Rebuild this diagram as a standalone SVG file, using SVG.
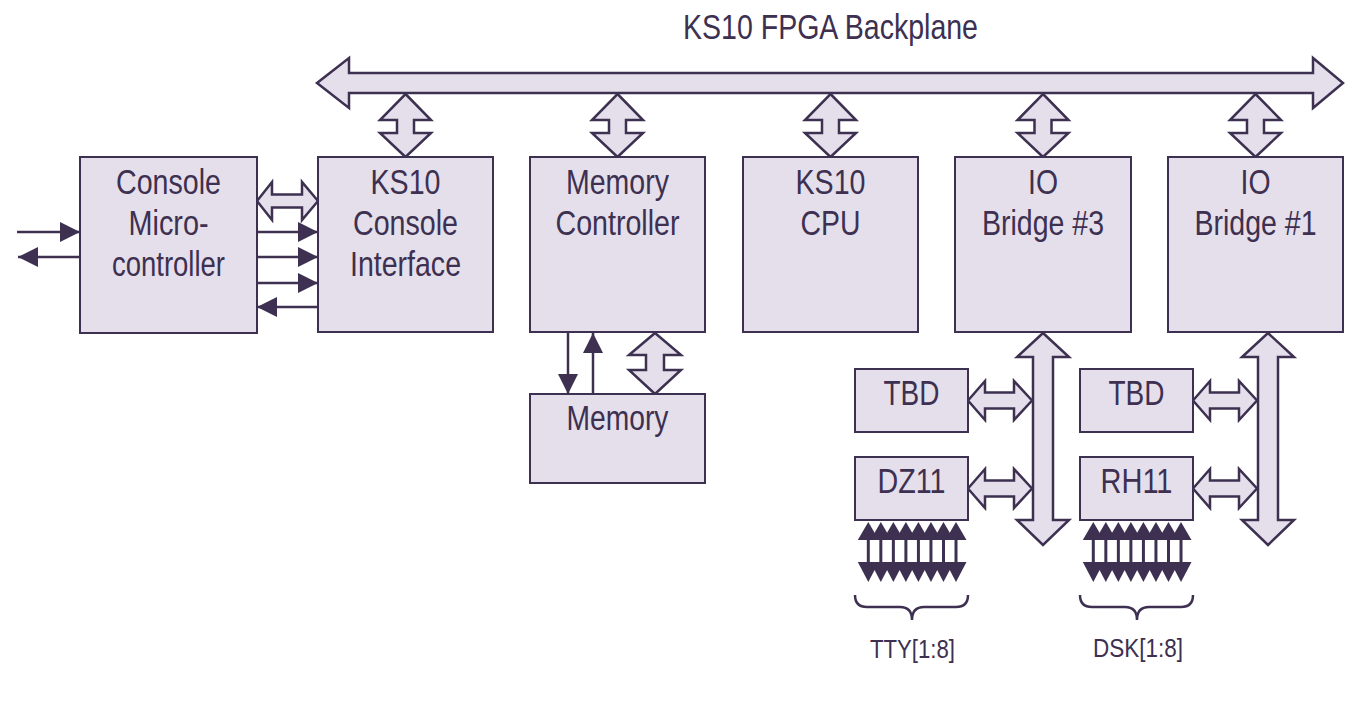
<svg xmlns="http://www.w3.org/2000/svg" width="1352" height="712" viewBox="0 0 1352 712">
<style>
.box{fill:#e4dfeb;stroke:#3d3050;stroke-width:2}
.big{fill:#e4dfeb;stroke:#3d3050;stroke-width:2.5;stroke-linejoin:miter}
.lbl{font-family:"Liberation Sans",Arial,sans-serif;font-size:35px;fill:#3d3050;text-anchor:middle}
.sm{font-family:"Liberation Sans",Arial,sans-serif;font-size:26px;fill:#3d3050;text-anchor:middle}
.ln{stroke:#3d3050;stroke-width:2.5;fill:none}
.arr{stroke:#3d3050;stroke-width:3;fill:none}
.tri{fill:#3d3050}
.brace{stroke:#3d3050;stroke-width:2.5;fill:none}
</style>
<defs>
<marker id="ah" markerUnits="userSpaceOnUse" markerWidth="21" markerHeight="21" refX="20" refY="10" orient="auto-start-reverse">
<path d="M0,0 L20,10 L0,20 Z" fill="#3d3050"/>
</marker>
<polygon id="vdbl" points="0,94 25.5,120 8.5,120 8.5,133 25.5,133 0,157 -25.5,133 -8.5,133 -8.5,120 -25.5,120"/>
<polygon id="hdbl" points="968,0 985,-19.5 985,-8 1014,-8 1014,-19.5 1032,0 1014,19.5 1014,8 985,8 985,19.5"/>
<g id="one">
<line class="arr" x1="0" y1="530" x2="0" y2="575"/>
<polygon class="tri" points="0,522 10.5,540 -10.5,540"/>
<polygon class="tri" points="0,582 10.5,562 -10.5,562"/>
</g>
<g id="arr8">
<use href="#one" x="0"/>
<use href="#one" x="12.53"/>
<use href="#one" x="25.06"/>
<use href="#one" x="37.59"/>
<use href="#one" x="50.12"/>
<use href="#one" x="62.65"/>
<use href="#one" x="75.18"/>
<use href="#one" x="87.71"/>
</g>
</defs>

<text class="lbl" x="830.5" y="39" textLength="295" lengthAdjust="spacingAndGlyphs">KS10 FPGA Backplane</text>

<g id="connectors">
<polygon class="big" points="317,83 349,58 349,73 1313,73 1313,58 1343,83 1313,108 1313,93 349,93 349,108"/>
<use href="#vdbl" class="big" transform="translate(405.5,0)"/>
<use href="#vdbl" class="big" transform="translate(617.5,0)"/>
<use href="#vdbl" class="big" transform="translate(830.5,0)"/>
<use href="#vdbl" class="big" transform="translate(1043,0)"/>
<use href="#vdbl" class="big" transform="translate(1255.5,0)"/>
<polygon class="big" points="257,201 272,182 272,194.5 302,194.5 302,182 318,201 302,220 302,207.5 272,207.5 272,220"/>
<line class="ln" x1="257" y1="232" x2="318" y2="232" marker-end="url(#ah)"/>
<line class="ln" x1="257" y1="257" x2="318" y2="257" marker-end="url(#ah)"/>
<line class="ln" x1="257" y1="283" x2="318" y2="283" marker-end="url(#ah)"/>
<line class="ln" x1="318" y1="307" x2="257" y2="307" marker-end="url(#ah)"/>
<line class="ln" x1="17" y1="232" x2="80" y2="232" marker-end="url(#ah)"/>
<line class="ln" x1="80" y1="257" x2="18" y2="257" marker-end="url(#ah)"/>
<line class="ln" x1="568" y1="333" x2="568" y2="394" marker-end="url(#ah)"/>
<line class="ln" x1="593" y1="394" x2="593" y2="333" marker-end="url(#ah)"/>
<polygon class="big" points="655,333 681,355 664,355 664,370 681,370 655,394 629,370 646,370 646,355 629,355"/>
<polygon class="big" points="1043,333 1069,357 1053,357 1053,520 1069,520 1043,545 1017,520 1033,520 1033,357 1017,357"/>
<polygon class="big" points="1268,333 1294,357 1278,357 1278,520 1294,520 1268,545 1242,520 1258,520 1258,357 1242,357"/>
<use href="#hdbl" class="big" transform="translate(0,400.5)"/>
<use href="#hdbl" class="big" transform="translate(0,488.5)"/>
<use href="#hdbl" class="big" transform="translate(225,400.5)"/>
<use href="#hdbl" class="big" transform="translate(225,488.5)"/>
<use href="#arr8" transform="translate(868.3,0)"/>
<use href="#arr8" transform="translate(1093.3,0)"/>
<path class="brace" d="M855,595 Q855,607 867,607 L900,607 Q912,607 912,620 Q912,607 924,607 L956,607 Q968,607 968,595"/>
<path class="brace" d="M1080,595 Q1080,607 1092,607 L1125,607 Q1137,607 1137,620 Q1137,607 1149,607 L1181,607 Q1193,607 1193,595"/>
</g>

<g id="console-micro">
<rect class="box" x="80" y="157" width="177" height="176"/>
<text class="lbl" x="168.5" y="194" textLength="105" lengthAdjust="spacingAndGlyphs">Console</text>
<text class="lbl" x="168.5" y="235" textLength="80" lengthAdjust="spacingAndGlyphs">Micro-</text>
<text class="lbl" x="168.5" y="276" textLength="113" lengthAdjust="spacingAndGlyphs">controller</text>
</g>
<g id="console-interface">
<rect class="box" x="318" y="157" width="175" height="175"/>
<text class="lbl" x="405.5" y="194" textLength="70" lengthAdjust="spacingAndGlyphs">KS10</text>
<text class="lbl" x="405.5" y="235" textLength="105" lengthAdjust="spacingAndGlyphs">Console</text>
<text class="lbl" x="405.5" y="276" textLength="111" lengthAdjust="spacingAndGlyphs">Interface</text>
</g>
<g id="memory-controller">
<rect class="box" x="530" y="157" width="175" height="175"/>
<text class="lbl" x="617.5" y="194" textLength="103" lengthAdjust="spacingAndGlyphs">Memory</text>
<text class="lbl" x="617.5" y="235" textLength="124" lengthAdjust="spacingAndGlyphs">Controller</text>
</g>
<g id="cpu">
<rect class="box" x="743" y="157" width="175" height="175"/>
<text class="lbl" x="830.5" y="194" textLength="70" lengthAdjust="spacingAndGlyphs">KS10</text>
<text class="lbl" x="830.5" y="235" textLength="60" lengthAdjust="spacingAndGlyphs">CPU</text>
</g>
<g id="io-bridge-3">
<rect class="box" x="955" y="157" width="176" height="175"/>
<text class="lbl" x="1043" y="194" textLength="30" lengthAdjust="spacingAndGlyphs">IO</text>
<text class="lbl" x="1043" y="235" textLength="122" lengthAdjust="spacingAndGlyphs">Bridge #3</text>
</g>
<g id="io-bridge-1">
<rect class="box" x="1168" y="157" width="175" height="175"/>
<text class="lbl" x="1255.5" y="194" textLength="30" lengthAdjust="spacingAndGlyphs">IO</text>
<text class="lbl" x="1255.5" y="235" textLength="122" lengthAdjust="spacingAndGlyphs">Bridge #1</text>
</g>
<g id="memory">
<rect class="box" x="530" y="394" width="175" height="89"/>
<text class="lbl" x="617.5" y="430" textLength="102" lengthAdjust="spacingAndGlyphs">Memory</text>
</g>
<g id="tbd-3">
<rect class="box" x="855" y="369" width="113" height="63"/>
<text class="lbl" x="911.5" y="405" textLength="56" lengthAdjust="spacingAndGlyphs">TBD</text>
</g>
<g id="dz11">
<rect class="box" x="855" y="457" width="113" height="63"/>
<text class="lbl" x="911.5" y="493" textLength="68" lengthAdjust="spacingAndGlyphs">DZ11</text>
</g>
<g id="tbd-1">
<rect class="box" x="1080" y="369" width="113" height="63"/>
<text class="lbl" x="1136.5" y="405" textLength="56" lengthAdjust="spacingAndGlyphs">TBD</text>
</g>
<g id="rh11">
<rect class="box" x="1080" y="457" width="113" height="63"/>
<text class="lbl" x="1136.5" y="493" textLength="72" lengthAdjust="spacingAndGlyphs">RH11</text>
</g>
<g id="tty-label">
<text class="sm" x="912.5" y="658" textLength="85" lengthAdjust="spacingAndGlyphs">TTY[1:8]</text>
</g>
<g id="dsk-label">
<text class="sm" x="1138" y="657" textLength="90" lengthAdjust="spacingAndGlyphs">DSK[1:8]</text>
</g>
</svg>
